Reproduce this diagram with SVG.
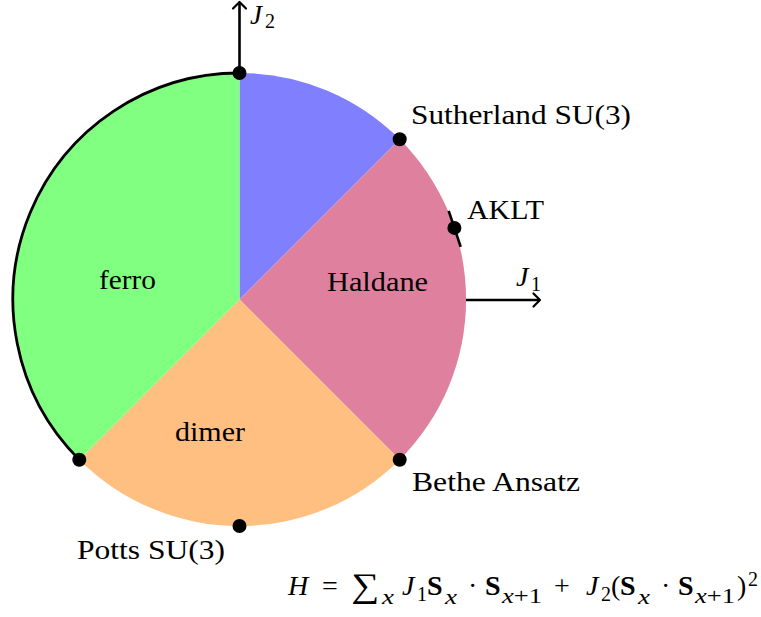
<svg xmlns="http://www.w3.org/2000/svg" width="761" height="617" viewBox="0 0 761 617">
  <style>
    .lbl { font-family: "Liberation Serif", "Times New Roman", serif; font-size: 28px; fill: #000; }
    .mi { font-family: "Liberation Serif", "Times New Roman", serif; font-style: italic; fill: #000; }
    .mr { font-family: "Liberation Serif", "Times New Roman", serif; font-style: normal; fill: #000; }
    .mb { font-family: "Liberation Serif", "Times New Roman", serif; font-weight: bold; font-style: normal; fill: #000; }
    .dot { fill: #000; }
    .ax { fill: none; stroke: #000; stroke-width: 2.6; stroke-linecap: butt; }
    .head { fill: none; stroke: #000; stroke-width: 2.2; stroke-linecap: round; stroke-linejoin: round; }
  </style>
  <rect width="761" height="617" fill="#fff"/>

  <g id="regions">
    <g id="sutherland-phase">
      <path d="M239.5,299.5 L239.5,73 A226.5,226.5 0 0 1 399.7,139.3 Z" fill="#8080FF"/>
    </g>
    <g id="haldane">
      <path d="M239.5,299.5 L399.7,139.3 A226.5,226.5 0 0 1 399.7,459.7 Z" fill="#DF809F"/>
      <text class="lbl" x="327" y="291" textLength="101" lengthAdjust="spacingAndGlyphs">Haldane</text>
    </g>
    <g id="dimer">
      <path d="M239.5,299.5 L399.7,459.7 A226.5,226.5 0 0 1 79.3,459.7 Z" fill="#FFBF80"/>
      <text class="lbl" x="175" y="441" textLength="70" lengthAdjust="spacingAndGlyphs">dimer</text>
    </g>
    <g id="ferro">
      <path d="M239.5,299.5 L79.3,459.7 A226.5,226.5 0 0 1 239.5,73 Z" fill="#80FF80"/>
      <path d="M79.3,459.7 A226.5,226.5 0 0 1 239.5,73" fill="none" stroke="#000" stroke-width="2.8"/>
      <text class="lbl" x="99" y="289" textLength="57" lengthAdjust="spacingAndGlyphs">ferro</text>
    </g>
  </g>

  <g id="connectors">
    <g id="axis-J2">
      <line class="ax" x1="239.5" y1="73" x2="239.5" y2="2"/>
      <path class="head" d="M233,8.5 L239.5,2 L246,8.5"/>
      <text class="mi" x="250" y="24" font-size="27">J</text>
      <text class="mr" x="265" y="28" font-size="20">2</text>
    </g>
    <g id="axis-J1">
      <line class="ax" x1="466" y1="300" x2="540" y2="300"/>
      <path class="head" d="M533.5,293.5 L540,300 L533.5,306.5"/>
      <text class="mi" x="516" y="286" font-size="28">J</text>
      <text class="mr" x="531" y="291" font-size="20">1</text>
    </g>
    <g id="aklt-tick">
      <line x1="448.7" y1="210.8" x2="460.7" y2="246.9" stroke="#000" stroke-width="2.6"/>
    </g>
  </g>

  <g id="nodes">
    <g id="top-point"><circle class="dot" cx="239.5" cy="73" r="7"/></g>
    <g id="sutherland">
      <circle class="dot" cx="399.7" cy="139.3" r="7"/>
      <text class="lbl" x="411" y="124" textLength="220" lengthAdjust="spacingAndGlyphs">Sutherland SU(3)</text>
    </g>
    <g id="aklt">
      <circle class="dot" cx="454.4" cy="227.9" r="7"/>
      <text class="lbl" x="467" y="219" textLength="77" lengthAdjust="spacingAndGlyphs">AKLT</text>
    </g>
    <g id="bethe">
      <circle class="dot" cx="399.7" cy="459.7" r="7"/>
      <text class="lbl" x="412" y="491" textLength="168" lengthAdjust="spacingAndGlyphs">Bethe Ansatz</text>
    </g>
    <g id="left-point"><circle class="dot" cx="79.3" cy="459.7" r="7"/></g>
    <g id="potts">
      <circle class="dot" cx="239.5" cy="526" r="7"/>
      <text class="lbl" x="77" y="559" textLength="148" lengthAdjust="spacingAndGlyphs">Potts SU(3)</text>
    </g>
  </g>

  <g id="hamiltonian">
    <text class="mi" x="288" y="595" font-size="28">H</text>
    <text class="mr" x="322" y="595" font-size="28">=</text>
    <text class="mr" x="351" y="597" font-size="34" textLength="28" lengthAdjust="spacingAndGlyphs">∑</text>
    <text class="mi" x="382" y="604" font-size="20" textLength="12" lengthAdjust="spacingAndGlyphs">x</text>
    <text class="mi" x="402" y="595" font-size="28">J</text>
    <text class="mr" x="417" y="601" font-size="20">1</text>
    <text class="mb" x="427" y="595" font-size="28">S</text>
    <text class="mi" x="445" y="604" font-size="20" textLength="12" lengthAdjust="spacingAndGlyphs">x</text>
    <text class="mr" x="468" y="595" font-size="28">·</text>
    <text class="mb" x="485" y="595" font-size="28">S</text>
    <text class="mi" x="502" y="603" font-size="20" textLength="40" lengthAdjust="spacingAndGlyphs">x<tspan class="mr">+1</tspan></text>
    <text class="mr" x="554" y="595" font-size="28">+</text>
    <text class="mi" x="586" y="595" font-size="28">J</text>
    <text class="mr" x="601" y="601" font-size="20">2</text>
    <text class="mr" x="611" y="595" font-size="28">(</text>
    <text class="mb" x="620" y="595" font-size="28">S</text>
    <text class="mi" x="638" y="604" font-size="20" textLength="12" lengthAdjust="spacingAndGlyphs">x</text>
    <text class="mr" x="661" y="595" font-size="28">·</text>
    <text class="mb" x="678" y="595" font-size="28">S</text>
    <text class="mi" x="695" y="603" font-size="20" textLength="40" lengthAdjust="spacingAndGlyphs">x<tspan class="mr">+1</tspan></text>
    <text class="mr" x="737" y="595" font-size="28">)</text>
    <text class="mr" x="748" y="586" font-size="20">2</text>
  </g>
</svg>
